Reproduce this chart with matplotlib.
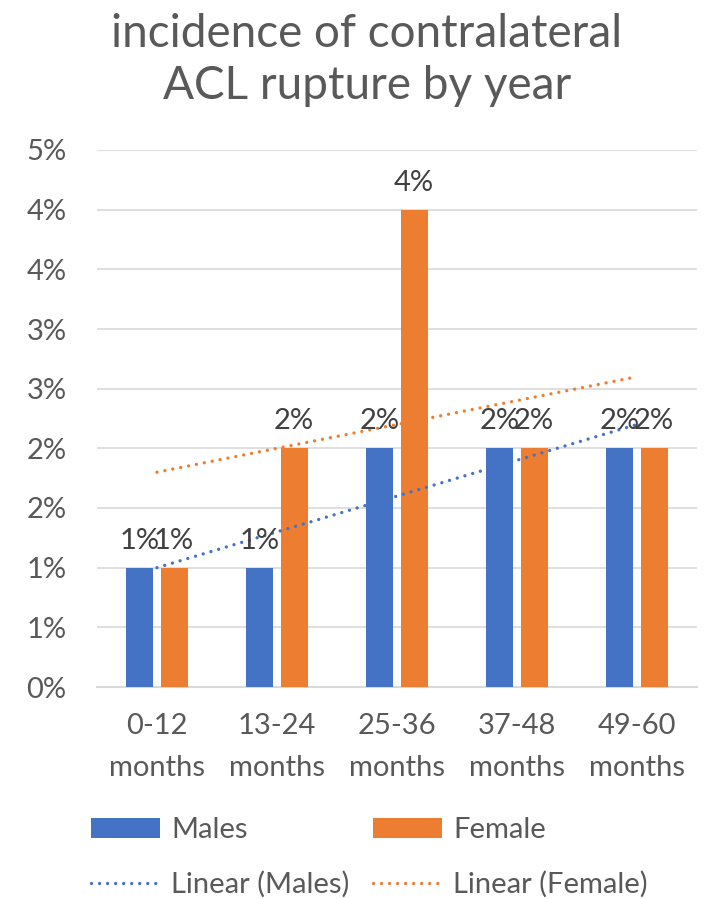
import matplotlib
matplotlib.use("Agg")
import matplotlib.pyplot as plt
import numpy as np
from matplotlib.ticker import FuncFormatter

plt.rcParams['font.family'] = ['Lato', 'DejaVu Sans']

categories = ["0-12\nmonths", "13-24\nmonths", "25-36\nmonths", "37-48\nmonths", "49-60\nmonths"]
males = [1.0, 1.0, 2.0, 2.0, 2.0]     # percent
female = [1.0, 2.0, 4.0, 2.0, 2.0]    # percent
y_ticks = [0, 0.5, 1.0, 1.5, 2.0, 2.5, 3.0, 3.5, 4.0, 4.5]

blue = '#4472C4'
orange = '#ED7D31'
txt = '#595959'
fs = 21

fig = plt.figure(figsize=(7.06, 8.99), dpi=100)
ax = fig.add_axes([97 / 706, 1 - 687 / 899, 600 / 706, (687 - 150) / 899])

x = np.arange(len(categories))
w = 0.225
off = 0.142
b1 = ax.bar(x - off, males, w, color=blue, label='Males', zorder=3)
b2 = ax.bar(x + off, female, w, color=orange, label='Female', zorder=3)

# data labels, rounded to whole percent like the axis
for bars, vals in ((b1, males), (b2, female)):
    for r, v in zip(bars, vals):
        ax.annotate(f"{v:.0f}%", (r.get_x() + r.get_width() / 2, v),
                    xytext=(0, 10), textcoords='offset points',
                    ha='center', va='bottom', fontsize=fs, color='#404040', zorder=5)

# linear trendlines over category index 1..5, drawn as round dots
xi = np.arange(1, len(categories) + 1)
for vals, col, lab in ((males, blue, 'Linear (Males)'), (female, orange, 'Linear (Female)')):
    k, c = np.polyfit(xi, vals, 1)
    ax.plot(x, k * xi + c, color=col, linestyle=(0, (0.01, 2.4)), lw=2.4,
            dash_capstyle='round', label=lab, zorder=4)

ax.set_xlim(-0.5, len(categories) - 0.5)
ax.set_ylim(0, 4.5)
ax.set_yticks(y_ticks)
ax.yaxis.set_major_formatter(FuncFormatter(lambda v, p: f"{int(np.floor(v + 0.5))}%"))
ax.set_xticks(x)
ax.set_xticklabels(categories, linespacing=1.75)
ax.tick_params(axis='both', length=0, labelsize=fs, labelcolor=txt)
ax.tick_params(axis='y', pad=22)
ax.tick_params(axis='x', pad=19)
ax.grid(axis='y', color='#D9D9D9', lw=1.2, zorder=0)
for s in ('top', 'right', 'left'):
    ax.spines[s].set_visible(False)
ax.spines['bottom'].set_color('#D9D9D9')
ax.spines['bottom'].set_linewidth(1.5)

fig.text(367 / 706, 1 - 60 / 899, "incidence of contralateral\nACL rupture by year",
         ha='center', va='center', fontsize=33, color=txt, linespacing=1.3)

h, l = ax.get_legend_handles_labels()
order = [2, 0, 3, 1]
leg = fig.legend([h[i] for i in order], [l[i] for i in order], ncol=2,
                 loc='upper left', bbox_to_anchor=(65 / 706, 1 - 791 / 899),
                 frameon=False, fontsize=fs, labelcolor=txt,
                 handlelength=2.35, handleheight=0.7, handletextpad=0.4,
                 columnspacing=0.8, labelspacing=0.95)

fig.savefig('out.png', dpi=100)
